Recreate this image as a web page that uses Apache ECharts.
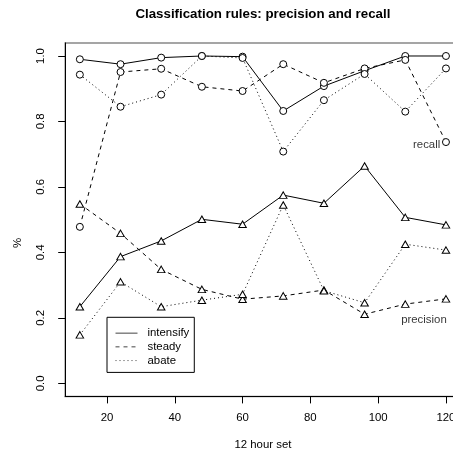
<!DOCTYPE html>
<html><head><meta charset="utf-8">
<script src="https://cdn.jsdelivr.net/npm/echarts@6/dist/echarts.min.js"></script>
<style>html,body{margin:0;padding:0;background:#fff}#c{width:453px;height:449px}</style>
</head><body><div id="c"></div>
<script>
const sets = [12,24,36,48,60,72,84,96,108,120];
const xTicks = [20,40,60,80,100,120];
const yTicks = [0,0.2,0.4,0.6,0.8,1.0];
const groups = ['intensify','steady','abate'];
const recallIntensify = [0.990,0.975,0.995,1.000,0.998,0.832,0.908,0.955,1.000,1.000];
const recallSteady    = [0.478,0.951,0.961,0.906,0.893,0.975,0.918,0.962,0.988,0.737];
const recallAbate     = [0.943,0.845,0.882,1.000,0.994,0.708,0.865,0.945,0.830,0.962];
const precisionIntensify = [0.234,0.387,0.435,0.501,0.486,0.575,0.550,0.664,0.507,0.484];
const precisionSteady    = [0.548,0.458,0.348,0.287,0.257,0.267,0.285,0.211,0.242,0.258];
const precisionAbate     = [0.148,0.310,0.234,0.254,0.272,0.545,0.283,0.246,0.425,0.407];
const annotations = [['recall',114.3,0.728],['precision',113.5,0.193]];

const FONT = '"Liberation Sans", Arial, Helvetica, sans-serif';
const dashes = {intensify:'solid', steady:[4,4], abate:[1,3]};

function mk(name, group, arr, symbol){
  return {
    name: name, type:'line', data: sets.map((x,i)=>[x,arr[i]]),
    symbol: symbol, symbolSize: symbol==='triangle'?[7.5,6.5]:7,
    lineStyle:{color:'#000', width:1, type:dashes[group]},
    itemStyle:{color:'#fff', borderColor:'#000', borderWidth:1},
    emphasis:{disabled:true}, z:2
  };
}
const series = [
  mk('intensify recall','intensify',recallIntensify,'circle'),
  mk('steady recall','steady',recallSteady,'circle'),
  mk('abate recall','abate',recallAbate,'circle'),
  mk('intensify precision','intensify',precisionIntensify,'triangle'),
  mk('steady precision','steady',precisionSteady,'triangle'),
  mk('abate precision','abate',precisionAbate,'triangle')
];
groups.forEach(g=>series.push({
  name:g, type:'line', data:[], symbol:'none',
  lineStyle:{color:'#000', width:1, type:dashes[g]},
  itemStyle:{color:'rgba(0,0,0,0)', borderWidth:0}
}));
series.push({
  type:'scatter', symbolSize:0, silent:true,
  data: annotations.map(a=>({name:a[0], value:[a[1],a[2]]})),
  label:{show:true, position:'inside', formatter:p=>p.name, color:'#000', fontSize:11.4, fontFamily:FONT}
});

const chart = echarts.init(document.getElementById('c'));
chart.setOption({
  animation:false,
  backgroundColor:'#fff',
  title:{text:'Classification rules: precision and recall', left:262.9, top:8, padding:0, textAlign:'center',
    textStyle:{fontSize:13.3, fontWeight:'bold', color:'#000', fontFamily:FONT}},
  grid:{left:65.2, top:42.9, width:395.4, height:353.5, outerBoundsMode:'none', containLabel:false,
    show:true, borderColor:'#888', borderWidth:1.5, backgroundColor:'transparent'},
  legend:{orient:'vertical', left:107, top:317.3, data:groups, itemWidth:22, itemHeight:8, itemGap:0,
    padding:[9,5,5,8], borderColor:'#000', borderWidth:1, selectedMode:false,
    lineStyle:{width:1, color:'#444'},
    textStyle:{fontSize:11.4, color:'#000', lineHeight:13.7, fontFamily:FONT, padding:[0,0,0,5]}},
  xAxis:{type:'value', min:7.68, max:124.32, name:'12 hour set', nameLocation:'middle', nameGap:43,
    nameTextStyle:{fontSize:11.4, color:'#000', fontFamily:FONT},
    axisLine:{show:true, onZero:false, lineStyle:{color:'#000'}},
    axisTick:{show:true, length:7, customValues:xTicks, lineStyle:{color:'#000'}},
    axisLabel:{customValues:xTicks, margin:16, fontSize:11.4, color:'#000', fontFamily:FONT},
    splitLine:{show:false}},
  yAxis:{type:'value', min:-0.04, max:1.04,
    axisLine:{show:true, onZero:false, lineStyle:{color:'#000'}},
    axisTick:{show:true, length:7, customValues:yTicks, lineStyle:{color:'#000'}},
    axisLabel:{customValues:yTicks, rotate:90, margin:19, fontSize:11.4, color:'#000', fontFamily:FONT,
      formatter:v=>v.toFixed(1)},
    splitLine:{show:false}},
  graphic:[{type:'text', x:18, y:243, rotation:Math.PI/2,
    style:{text:'%', x:0, y:0, align:'center', verticalAlign:'middle', fontSize:11.4, fill:'#000', fontFamily:FONT}}],
  series: series
});
</script></body></html>
